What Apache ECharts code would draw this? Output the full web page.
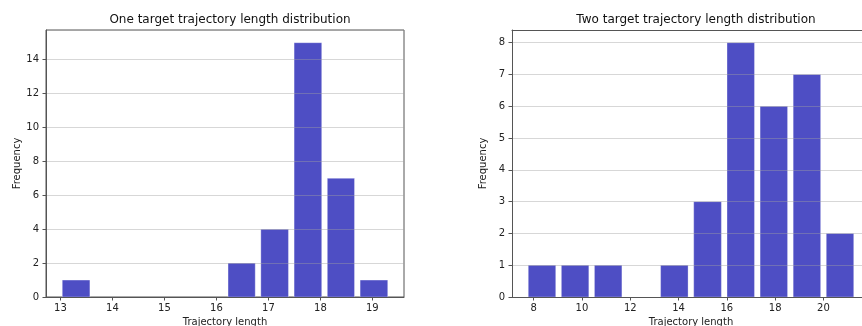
<!DOCTYPE html>
<html>
<head>
<meta charset="utf-8">
<script src="https://cdn.jsdelivr.net/npm/echarts@6/dist/echarts.min.js"></script>
<style>
  html, body { margin: 0; padding: 0; background: #fff; }
  #chart { width: 862px; height: 326px; }
</style>
</head>
<body>
<div id="chart"></div>
<script>
// Histogram bins: edges (n + 1 values) and counts (n values) for each panel.
const oneEdges  = [12.98, 13.62, 14.25, 14.89, 15.53, 16.17, 16.80, 17.44, 18.08, 18.71, 19.35];
const oneCounts = [1, 0, 0, 0, 0, 2, 4, 15, 7, 1];
const oneXTicks = [13, 14, 15, 16, 17, 18, 19];

const twoEdges  = [7.66, 9.03, 10.40, 11.77, 13.14, 14.51, 15.89, 17.26, 18.63, 20.00, 21.37];
const twoCounts = [1, 1, 1, 0, 1, 3, 8, 6, 7, 2];
const twoXTicks = [8, 10, 12, 14, 16, 18, 20];

const oneTitle = 'One target trajectory length distribution';
const twoTitle = 'Two target trajectory length distribution';
const xName = 'Trajectory length';
const yName = 'Frequency';

// Drawing constants
const FONT = 'DejaVu Sans';
const BAR_COLOR = '#4e4ec4';
const SPINE = '#555';
const GRID_LINE = 'rgba(160,160,160,0.42)';
const RWIDTH = 0.83;          // fraction of each bin covered by its bar

function binRows(edges, counts) {
  return counts.map((c, i) => [edges[i], edges[i + 1], c]);
}

// Axis limits: bar extents plus 5% margin on each side
function xLimits(edges) {
  const w0 = edges[1] - edges[0];
  const wN = edges[edges.length - 1] - edges[edges.length - 2];
  const lo = edges[0] + w0 * (1 - RWIDTH) / 2;
  const hi = edges[edges.length - 1] - wN * (1 - RWIDTH) / 2;
  const pad = (hi - lo) * 0.05;
  return [lo - pad, hi + pad];
}

function renderBin(params, api) {
  const a = api.value(0), b = api.value(1), c = api.value(2);
  if (!c) return null;
  const inset = (b - a) * (1 - RWIDTH) / 2;
  const p0 = api.coord([a + inset, c]);
  const p1 = api.coord([b - inset, 0]);
  return {
    type: 'rect',
    shape: { x: p0[0], y: p0[1], width: p1[0] - p0[0], height: p1[1] - p0[1] },
    style: { fill: BAR_COLOR, stroke: 'rgba(255,255,255,0.3)', lineWidth: 1 }
  };
}

// The first panel is framed on all four sides; the second panel runs past the
// right edge of the canvas, so it only gets a top spine.
const panels = [
  { edges: oneEdges, counts: oneCounts, ticks: oneXTicks, title: oneTitle, left: 46, yInterval: 2, framed: true },
  { edges: twoEdges, counts: twoCounts, ticks: twoXTicks, title: twoTitle, left: 512, yInterval: 1, framed: false }
];

const GRID_W = 358, GRID_TOP = 30, GRID_H = 267;
const textStyle = { fontFamily: FONT, fontSize: 10, color: '#222' };

function spineLine() {
  return { show: true, onZero: false, lineStyle: { color: SPINE, width: 1 } };
}

const topSpines = panels
  .map((p, i) => p.framed ? null : {
    type: 'value', gridIndex: i, position: 'top', min: 0, max: 1,
    axisLine: spineLine(),
    axisTick: { show: false }, axisLabel: { show: false }, splitLine: { show: false },
    z: 3
  })
  .filter(Boolean);

const option = {
  animation: false,
  backgroundColor: '#fff',
  title: panels.map(p => ({
    text: p.title,
    left: p.left + GRID_W / 2,
    top: 9,
    textAlign: 'center',
    textStyle: { fontFamily: FONT, fontSize: 12, fontWeight: 'normal', color: '#111' }
  })),
  grid: panels.map(p => ({
    left: p.left, top: GRID_TOP, width: GRID_W, height: GRID_H,
    outerBoundsMode: 'none', containLabel: false,
    show: p.framed, borderColor: SPINE, borderWidth: 1, backgroundColor: 'transparent'
  })),
  xAxis: panels.map((p, i) => {
    const lim = xLimits(p.edges);
    return {
      type: 'value', gridIndex: i, position: 'bottom', min: lim[0], max: lim[1],
      name: xName, nameLocation: 'middle', nameGap: 20,
      nameTextStyle: textStyle,
      axisLine: spineLine(),
      axisTick: { show: true, length: 3.5, customValues: p.ticks, lineStyle: { color: SPINE } },
      axisLabel: { customValues: p.ticks, margin: 6, ...textStyle },
      splitLine: { show: false },
      z: 3
    };
  }).concat(topSpines),
  yAxis: panels.map((p, i) => ({
    type: 'value', gridIndex: i, position: 'left', min: 0,
    max: Math.max(...p.counts) * 1.05,
    interval: p.yInterval,
    name: yName, nameLocation: 'middle', nameGap: 24, nameRotate: 90,
    nameTextStyle: textStyle,
    axisLine: spineLine(),
    axisTick: { show: true, length: 3.5, lineStyle: { color: SPINE } },
    axisLabel: { margin: 7, showMaxLabel: false, ...textStyle },
    splitLine: { show: true, lineStyle: { color: GRID_LINE, width: 1 } },
    z: 3
  })),
  series: panels.map((p, i) => ({
    type: 'custom',
    xAxisIndex: i, yAxisIndex: i,
    renderItem: renderBin,
    encode: { x: [0, 1], y: 2 },
    data: binRows(p.edges, p.counts),
    clip: true,
    z: 1
  }))
};

const chart = echarts.init(document.getElementById('chart'), null, { renderer: 'canvas' });
chart.setOption(option);
</script>
</body>
</html>
